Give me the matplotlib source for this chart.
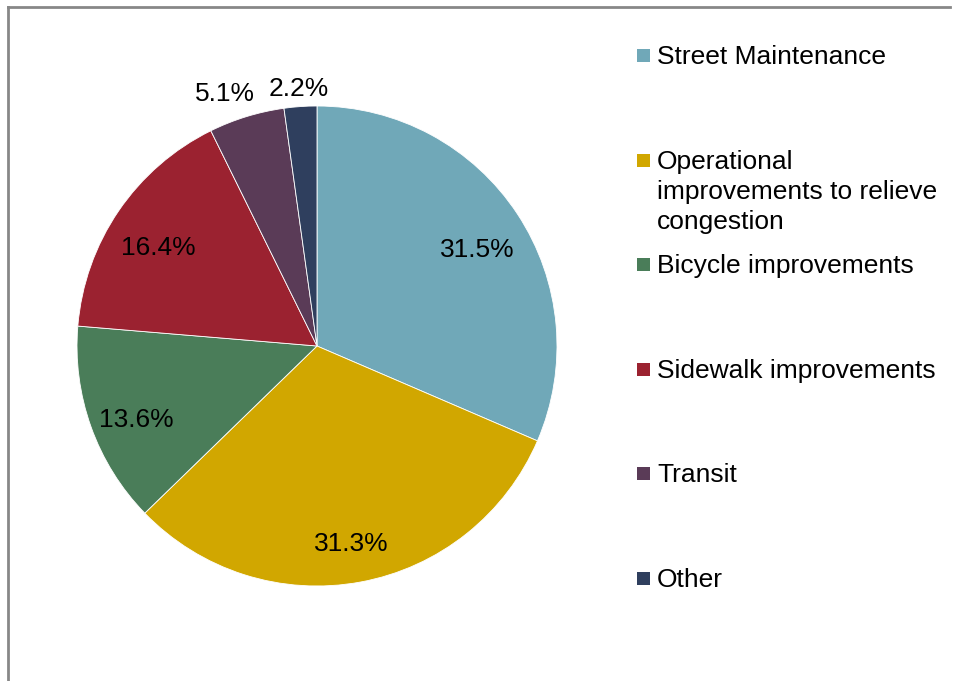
import matplotlib.pyplot as plt
from matplotlib.patches import Rectangle
from matplotlib.lines import Line2D
import numpy as np

plt.rcParams['font.family'] = ['Liberation Sans', 'DejaVu Sans']

categories = ["Street Maintenance",
              "Operational\nimprovements to relieve\ncongestion",
              "Bicycle improvements",
              "Sidewalk improvements",
              "Transit",
              "Other"]
shares = [31.5, 31.3, 13.6, 16.4, 5.1, 2.2]
colors = ["#70A8B8", "#D1A700", "#4A7D59", "#9B2230", "#5A3B57", "#2F3F5E"]

W, H = 959, 681
fig = plt.figure(figsize=(W / 100, H / 100), dpi=100)

# pie centred at (317, 346) px, radius 240 px
cx, cy, r = 317, 346, 240
ax = fig.add_axes([(cx - r) / W, (H - cy - r) / H, 2 * r / W, 2 * r / H])
wedges, texts, autotexts = ax.pie(
    shares, colors=colors, startangle=90, counterclock=False,
    autopct="%.1f%%", pctdistance=0.8,
    wedgeprops=dict(edgecolor="white", linewidth=0.6),
    textprops=dict(fontsize=19, color="black"))
ax.set_xlim(-1, 1)
ax.set_ylim(-1, 1)
ax.set_aspect("auto")

for w, t, v in zip(wedges, autotexts, shares):
    ang = np.deg2rad((w.theta1 + w.theta2) / 2)
    if v < 10:
        # small slices: label just outside the rim
        rr = 1.12 if v > 4 else 1.075
        shift = np.deg2rad(3) if v > 4 else 0
        t.set_position((rr * np.cos(ang + shift), rr * np.sin(ang + shift)))
    else:
        x, y = t.get_position()
        t.set_position((x, y - 0.04))

# legend on the right, markers evenly spaced
y0, step = 55, 104.6
for i, (lab, col) in enumerate(zip(categories, colors)):
    y = y0 + i * step
    fig.patches.append(Rectangle((637 / W, (H - y - 7) / H), 13 / W, 13 / H,
                                 transform=fig.transFigure, facecolor=col,
                                 edgecolor="none"))
    fig.text(657 / W, (H - y + 10) / H, lab, fontsize=19, va="top", ha="left",
             linespacing=1.32)

# chart frame (only top and left visible)
fig.lines.append(Line2D([8 / W, 8 / W], [0, (H - 7) / H], transform=fig.transFigure,
                        color="#878787", linewidth=2))
fig.lines.append(Line2D([8 / W, 950 / W], [(H - 7) / H, (H - 7) / H],
                        transform=fig.transFigure, color="#878787", linewidth=2))

fig.savefig("out.png", dpi=100)
